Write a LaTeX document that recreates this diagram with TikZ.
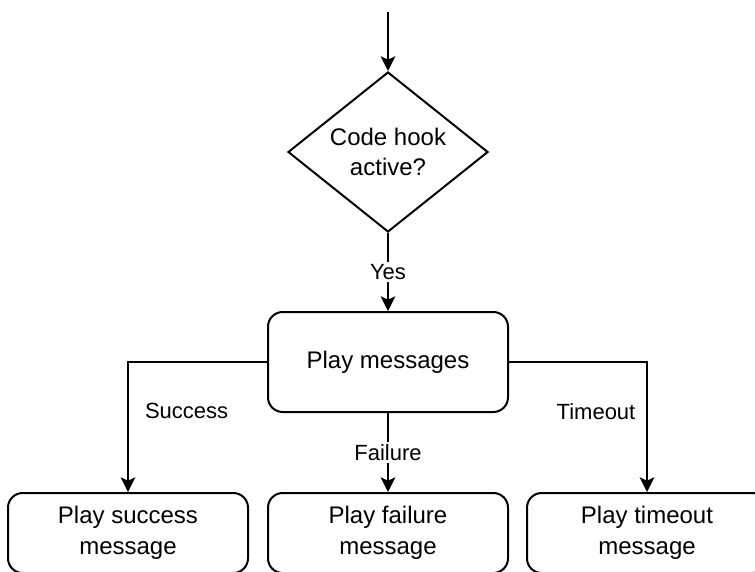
\documentclass[tikz,border=0pt]{standalone}
\usepackage{fontspec}
\setmainfont{Liberation Sans}
\usetikzlibrary{shapes.geometric,arrows.meta}

\begin{document}
\begin{tikzpicture}[x=0.75pt,y=-0.75pt,line width=1.5pt,
  box/.style={draw,rounded corners=11pt,minimum width=180pt,align=center,font=\fontsize{18}{23}\selectfont},
  arr/.style={-{Stealth[length=11pt,width=11pt,inset=2.5pt]}},
  lbl/.style={font=\fontsize{16.5}{20}\selectfont,inner sep=2pt}]

\useasboundingbox (0,0) rectangle (755,571);
\clip (0,0) rectangle (755,571);

\coordinate (start) at (388,12);
\node[draw,diamond,aspect=1.25,minimum width=150pt,minimum height=120pt,inner sep=0pt,
  align=center,font=\fontsize{18}{22.5}\selectfont] (hook) at (388,152) {Code hook\\active?};
\node[box,minimum height=75pt] (play) at (388,362) {Play messages};

\node[box,minimum height=60pt] (success) at (128,533) {Play success\\message};
\node[box,minimum height=60pt] (failure) at (388,533) {Play failure\\message};
\node[box,minimum height=60pt] (timeout) at (647,533) {Play timeout\\message};

\draw[arr] (start) -- (hook);
\draw[arr] (hook) -- node[lbl,fill=white] {Yes} (play);

\draw[arr] (play.west) -| node[lbl,pos=.69,right,xshift=10pt] {Success} (success);
\draw[arr] (play) -- node[lbl,fill=white] {Failure} (failure);
\draw[arr] (play.east) -| node[lbl,pos=.69,left,xshift=-6pt] {Timeout} (timeout);
\end{tikzpicture}
\end{document}
